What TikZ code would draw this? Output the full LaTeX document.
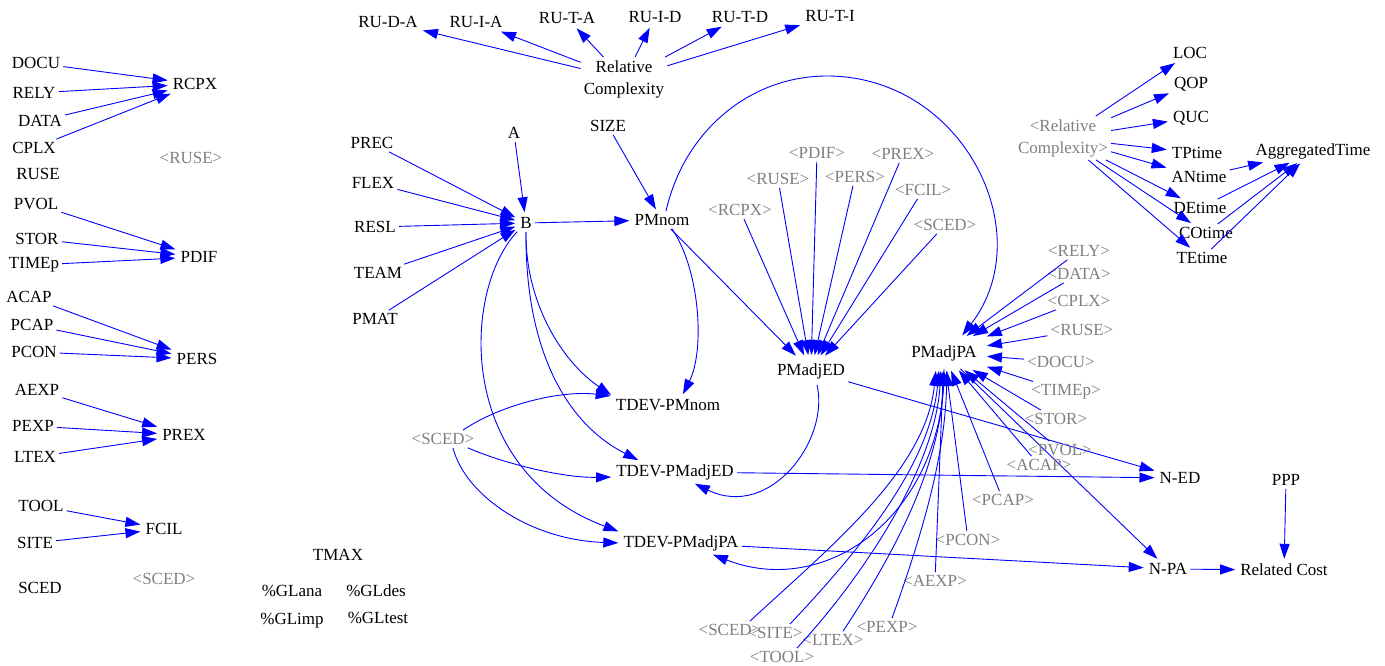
\documentclass[tikz,border=0pt]{standalone}
\usepackage{fontspec}
\setmainfont{Liberation Serif}
\usepackage{xcolor}
\usepackage{tikz}
\usetikzlibrary{arrows.meta}
\definecolor{linkC}{rgb}{0,0,1}
\definecolor{ghostC}{rgb}{0.5,0.5,0.5}

\begin{document}
\begin{tikzpicture}[x=1pt,y=-1pt,
        var/.style={font=\fontsize{17}{22}\selectfont,inner sep=3pt},
        ghost/.style={var,text=ghostC},
        link/.style={draw=linkC,line width=0.9pt,shorten >=2pt,-{Triangle[length=15pt,width=10pt]}}]
        \useasboundingbox (0,0) rectangle (1385,666);
        \node[var] (DOCU) at (36,63) {DOCU};
        \node[var] (RELY) at (34,93) {RELY};
        \node[var] (DATA) at (40,121) {DATA};
        \node[var] (CPLX) at (34,148) {CPLX};
        \node[var] (RUSE) at (38,174) {RUSE};
        \node[var] (RCPX) at (195,84) {RCPX};
        \node[ghost] (gRUSEa) at (191,158) {<RUSE>};
        \node[var] (PVOL) at (36,204) {PVOL};
        \node[var] (STOR) at (37,239) {STOR};
        \node[var] (TIMEp) at (34,265) {TIMEp};
        \node[var] (PDIF) at (199,257) {PDIF};
        \node[var] (ACAP) at (29,297) {ACAP};
        \node[var] (PCAP) at (32,325) {PCAP};
        \node[var] (PCON) at (34,352) {PCON};
        \node[var] (PERS) at (197,359) {PERS};
        \node[var] (AEXP) at (37,390) {AEXP};
        \node[var] (PEXP) at (33,426) {PEXP};
        \node[var] (LTEX) at (35,457) {LTEX};
        \node[var] (PREX) at (184,435) {PREX};
        \node[var] (TOOL) at (41,506) {TOOL};
        \node[var] (SITE) at (35,543) {SITE};
        \node[var] (FCIL) at (164,529) {FCIL};
        \node[var] (SCED) at (40,588) {SCED};
        \node[ghost] (gSCEDa) at (164,579) {<SCED>};
        \node[var] (TMAX) at (338,555) {TMAX};
        \node[var] (GLana) at (292,591) {\%GLana};
        \node[var] (GLdes) at (376,591) {\%GLdes};
        \node[var] (GLimp) at (292,621) {\%GLimp};
        \node[var] (GLtest) at (378,618) {\%GLtest};
        \foreach \src in {DOCU,RELY,DATA,CPLX} \draw[link] (\src) -- (RCPX);
        \foreach \src in {PVOL,STOR,TIMEp} \draw[link] (\src) -- (PDIF);
        \foreach \src in {ACAP,PCAP,PCON} \draw[link] (\src) -- (PERS);
        \foreach \src in {AEXP,PEXP,LTEX} \draw[link] (\src) -- (PREX);
        \foreach \src in {TOOL,SITE} \draw[link] (\src) -- (FCIL);

        \node[var] (RUDA) at (388,22) {RU-D-A};
        \node[var] (RUIA) at (476,22) {RU-I-A};
        \node[var] (RUTA) at (567,18) {RU-T-A};
        \node[var] (RUID) at (655,17) {RU-I-D};
        \node[var] (RUTD) at (740,17) {RU-T-D};
        \node[var] (RUTI) at (830,16) {RU-T-I};
        \node[var,align=center] (RC) at (624,79) {Relative\\Complexity};
        \foreach \dst in {RUDA,RUIA,RUTA,RUID,RUTD,RUTI} \draw[link] (RC) -- (\dst);

        \node[var] (A) at (514,133) {A};
        \node[var] (SIZE) at (608,126) {SIZE};
        \node[var] (PREC) at (372,143) {PREC};
        \node[var] (FLEX) at (373,183) {FLEX};
        \node[var] (RESL) at (375,227) {RESL};
        \node[var] (TEAM) at (378,273) {TEAM};
        \node[var] (PMAT) at (375,319) {PMAT};
        \node[var] (B) at (526,223) {B};
        \node[var] (PMnom) at (662,220) {PMnom};
        \node[var] (TDEVnom) at (668,405) {TDEV-PMnom};
        \node[ghost] (gSCEDb) at (443,439) {<SCED>};
        \node[var] (TDEVed) at (675,472) {TDEV-PMadjED};
        \node[var] (TDEVpa) at (681,543) {TDEV-PMadjPA};
        \node[var,inner ysep=6pt] (PMadjED) at (811,371) {PMadjED};
        \node[var,inner sep=8pt] (PMadjPA) at (944,353) {PMadjPA};
        \node[var] (NED) at (1180,478) {N-ED};
        \node[var] (NPA) at (1168,569) {N-PA};
        \node[var] (RCost) at (1284,570) {Related Cost};
        \node[var] (PPP) at (1286,480) {PPP};
        \foreach \src in {A,PREC,FLEX,RESL,TEAM,PMAT} \draw[link] (\src) -- (B);
        \draw[link] (B) -- (PMnom);
        \draw[link] (SIZE) -- (PMnom);
        \draw[link] (B.south) .. controls (525,300) and (560,360) .. (TDEVnom.north west);
        \draw[link] (B.south) .. controls (525,340) and (560,420) .. ([xshift=-35pt]TDEVed.north);
        \draw[link] (B.south west) .. controls (462,290) and (455,470) .. (TDEVpa.north west);
        \draw[link] ([xshift=10pt]PMnom.south) .. controls (700,270) and (705,350) .. ([xshift=14pt]TDEVnom.north);
        \draw[link] ([xshift=4pt]PMnom.north) .. controls (684,131) and (750,76) .. (827,76)
                .. controls (963,76) and (1041,233) .. ([xshift=17pt]PMadjPA.north);
        \draw[link] ([xshift=6pt]PMadjED.south) .. controls (830,440) and (770,520) .. ([xshift=18pt]TDEVed.south);
        \draw[link] (PMadjPA.south) .. controls (945,510) and (830,600) .. ([xshift=30pt]TDEVpa.south);
        \draw[link] ([xshift=20pt]gSCEDb.north) .. controls (500,405) and (560,390) .. (TDEVnom.north west);
        \draw[link] ([xshift=25pt]gSCEDb.south) .. controls (500,462) and (560,478) .. ([yshift=-5pt]TDEVed.west);
        \draw[link] ([xshift=10pt]gSCEDb.south) .. controls (465,495) and (530,540) .. (TDEVpa.west);
        \draw[link] (PMadjED) -- (NED);
        \draw[link] (TDEVed) -- (NED);
        \draw[link] (TDEVpa) -- (NPA);
        \draw[link] (PMadjPA) -- (NPA);
        \draw[link] (NPA) -- (RCost);
        \draw[link] (PPP) -- (RCost);

        \node[ghost] (gRCPX) at (740,210) {<RCPX>};
        \node[ghost] (gRUSEb) at (778,179) {<RUSE>};
        \node[ghost] (gPDIF) at (817,153) {<PDIF>};
        \node[ghost] (gPERS) at (855,177) {<PERS>};
        \node[ghost] (gPREX) at (903,154) {<PREX>};
        \node[ghost] (gFCIL) at (923,190) {<FCIL>};
        \node[ghost] (gSCEDc) at (945,225) {<SCED>};
        \foreach \src in {PMnom,gRCPX,gRUSEb,gPDIF,gPERS,gPREX,gFCIL,gSCEDc} \draw[link] (\src) -- (PMadjED);

        \node[ghost] (gRELY) at (1079,251) {<RELY>};
        \node[ghost] (gDATA) at (1079,274) {<DATA>};
        \node[ghost] (gCPLX) at (1079,301) {<CPLX>};
        \node[ghost] (gRUSEc) at (1082,330) {<RUSE>};
        \node[ghost] (gDOCU) at (1061,362) {<DOCU>};
        \node[ghost] (gTIMEp) at (1066,392) {<TIMEp>};
        \node[ghost] (gSTOR) at (1056,419) {<STOR>};
        \node[ghost] (gPVOL) at (1060,450) {<PVOL>};
        \node[ghost] (gACAP) at (1039,465) {<ACAP>};
        \node[ghost] (gPCAP) at (1003,500) {<PCAP>};
        \node[ghost] (gPCON) at (968,540) {<PCON>};
        \node[ghost] (gAEXP) at (935,581) {<AEXP>};
        \node[ghost] (gPEXP) at (887,627) {<PEXP>};
        \node[ghost] (gLTEX) at (833,640) {<LTEX>};
        \node[ghost] (gSCEDd) at (730,630) {<SCED>};
        \node[ghost] (gSITE) at (775,633) {<SITE>};
        \node[ghost] (gTOOL) at (782,657) {<TOOL>};
        \foreach \src in {gRELY,gDATA,gCPLX,gRUSEc,gDOCU,gTIMEp,gSTOR,gPVOL,gACAP,gPCAP,gPCON,gAEXP} \draw[link] (\src) -- (PMadjPA);
        \draw[link] ([xshift=20pt]gSCEDd.north) .. controls (830,547) and (926,470) .. ([xshift=-8pt]PMadjPA.south);
        \draw[link] ([xshift=15pt]gSITE.north) .. controls (850,560) and (930,470) .. ([xshift=-5pt]PMadjPA.south);
        \draw[link] ([xshift=15pt]gTOOL.north) .. controls (860,580) and (935,470) .. ([xshift=-3pt]PMadjPA.south);
        \draw[link] ([xshift=10pt]gLTEX.north) .. controls (890,560) and (940,470) .. (PMadjPA.south);
        \draw[link] ([xshift=5pt]gPEXP.north) .. controls (920,540) and (945,460) .. ([xshift=3pt]PMadjPA.south);

        \node[var] (LOC) at (1190,53) {LOC};
        \node[var] (QOP) at (1191,84) {QOP};
        \node[var] (QUC) at (1191,118) {QUC};
        \node[ghost,align=center] (gRC) at (1063,138) {<Relative\\Complexity>};
        \node[var] (TPtime) at (1197,153) {TPtime};
        \node[var] (ANtime) at (1199,177) {ANtime};
        \node[var] (DEtime) at (1200,208) {DEtime};
        \node[var] (COtime) at (1206,233) {COtime};
        \node[var] (TEtime) at (1202,258) {TEtime};
        \node[var] (AggT) at (1313,151) {AggregatedTime};
        \foreach \dst in {LOC,QOP,QUC,TPtime,ANtime,DEtime,COtime,TEtime} \draw[link] (gRC) -- (\dst);
        \foreach \src in {ANtime,DEtime,COtime,TEtime} \draw[link] (\src) -- (AggT);
\end{tikzpicture}
\end{document}
